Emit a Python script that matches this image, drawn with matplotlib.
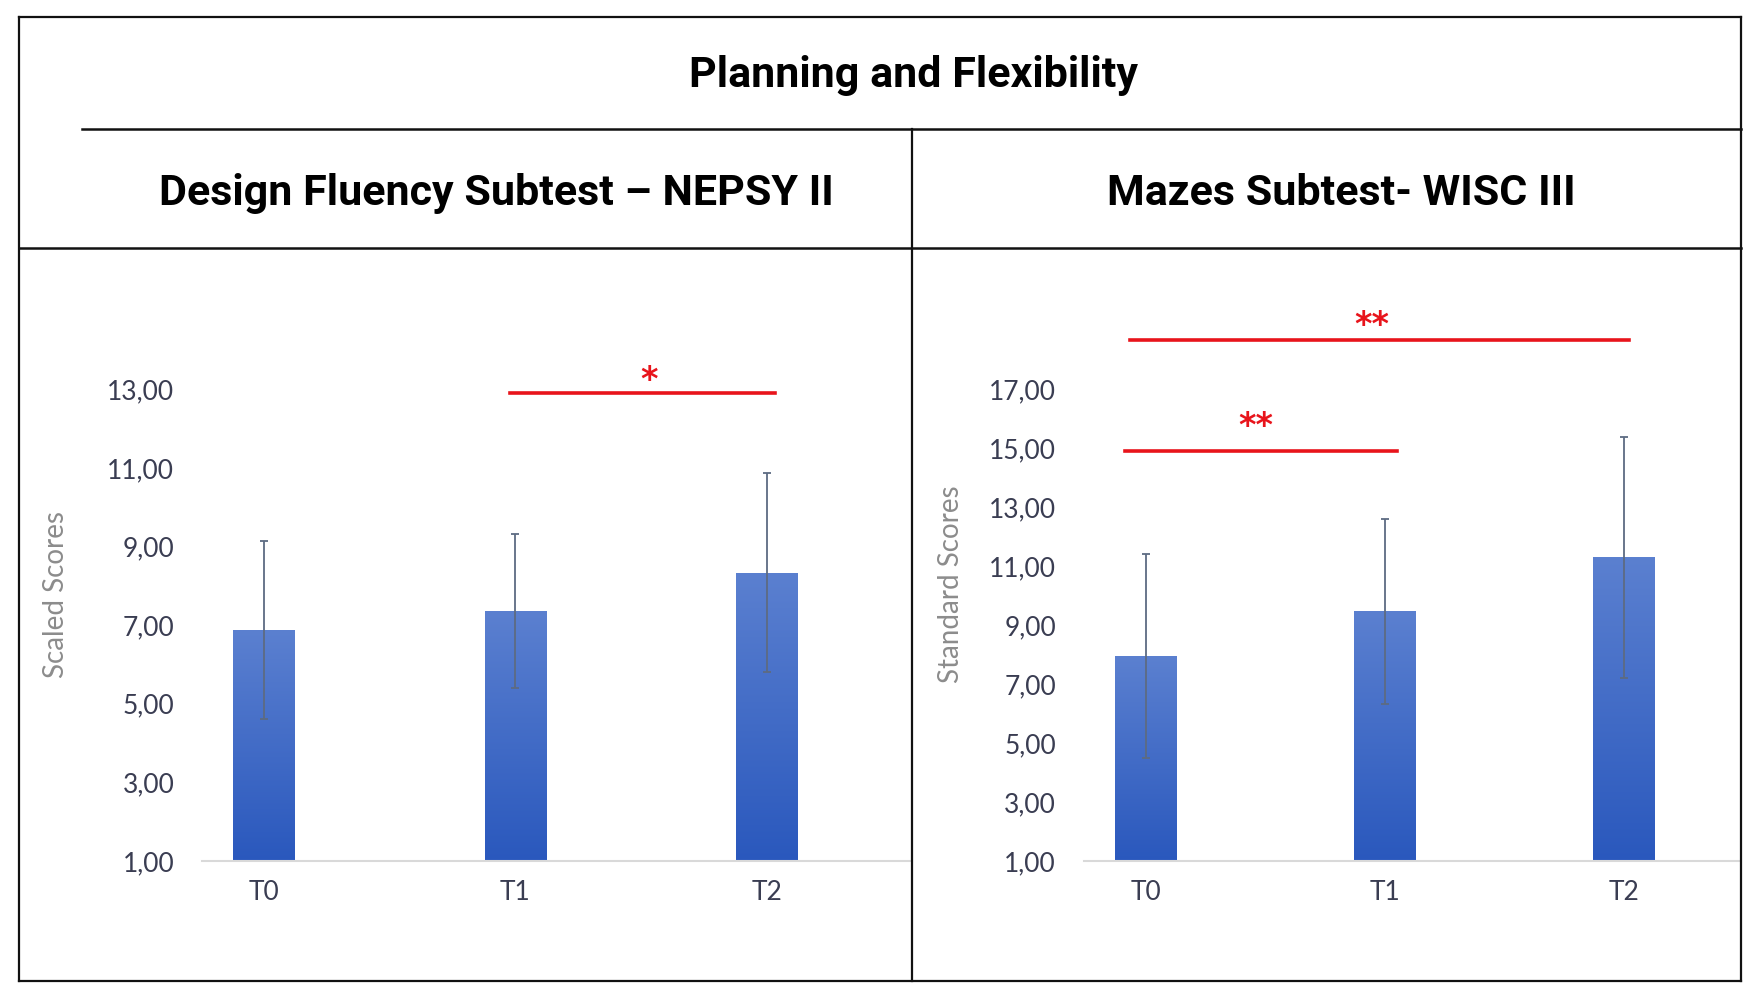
import matplotlib as mpl
mpl.use('Agg')
import matplotlib.pyplot as plt
from matplotlib.lines import Line2D
from matplotlib.colors import LinearSegmentedColormap
import numpy as np

# data
sessions = ['T0', 'T1', 'T2']

fluency_means = [6.87, 7.36, 8.33]
fluency_sd = [2.27, 1.95, 2.53]
fluency_ticks = [1, 3, 5, 7, 9, 11, 13]

mazes_means = [7.95, 9.47, 11.30]
mazes_sd = [3.47, 3.13, 4.09]
mazes_ticks = [1, 3, 5, 7, 9, 11, 13, 15, 17]

# significance brackets: (from, to, height, label, label x, label baseline)
fluency_sig = [(0.98, 2.03, 12.9, '*', 1.53, 12.98)]
mazes_sig = [(-0.085, 1.05, 14.9, '**', 0.46, 15.43),
             (-0.065, 2.02, 18.67, '**', 0.944, 18.86)]

W, H = 1568.0, 885.0   # layout measured on a scaled copy of the reference


def fx(x):
    return x / W


def fy(y):
    return 1 - y / H


fig = plt.figure(figsize=(17.61, 9.96), dpi=100)
fig.patch.set_facecolor('white')

title_font = ['Liberation Sans Narrow', 'Roboto', 'DejaVu Sans']
tick_font = ['Lato', 'DejaVu Sans']


def fline(x0, y0, x1, y1, lw=1.6, color='#111111'):
    fig.add_artist(Line2D([fx(x0), fx(x1)], [fy(y0), fy(y1)],
                          transform=fig.transFigure, color=color, lw=lw))


# frame of the table
fline(17, 15, 1550, 15)
fline(17, 872, 1550, 872)
fline(17, 15, 17, 872)
fline(1550, 15, 1550, 872)
fline(73, 115, 1550, 115, lw=1.8)
fline(17, 220, 1550, 220, lw=1.8)
fline(812, 115, 812, 872)

fig.text(fx(813), fy(67), 'Planning and Flexibility', ha='center', va='center',
         fontsize=31, fontweight='bold', family=title_font)
fig.text(fx(442), fy(172), 'Design Fluency Subtest \u2013 NEPSY II', ha='center', va='center',
         fontsize=31, fontweight='bold', family=title_font)
fig.text(fx(1194), fy(172), 'Mazes Subtest- WISC III', ha='center', va='center',
         fontsize=31, fontweight='bold', family=title_font)

cmap = LinearSegmentedColormap.from_list('bar', ['#2a58bd', '#5b80d0'])
grad = np.linspace(0, 1, 256).reshape(-1, 1)


def draw_panel(ax, means, sds, ticks, sig, width, xlim, ylabel, label_pos):
    x = np.arange(len(sessions))
    bars = ax.bar(x, means, width=width, bottom=0, color='none', edgecolor='none', zorder=2)
    for b in bars:
        x0, y0 = b.get_x(), ticks[0]
        x1, y1 = x0 + b.get_width(), b.get_height()
        im = ax.imshow(grad, extent=[x0, x1, y0, y1], origin='lower', aspect='auto',
                       cmap=cmap, zorder=2)
        im.set_clip_path(b)
    ax.errorbar(x, means, yerr=sds, fmt='none', ecolor='#5d6b82', elinewidth=1.3,
                capsize=3, capthick=1.3, zorder=3)

    ax.set_xlim(*xlim)
    ax.set_ylim(ticks[0], ticks[-1])
    ax.set_yticks(ticks)
    ax.set_yticklabels(['%d,00' % t for t in ticks])
    ax.set_xticks(x)
    ax.set_xticklabels(sessions)
    ax.tick_params(axis='y', length=0, labelsize=19, labelcolor='#3a3d52', pad=20)
    ax.tick_params(axis='x', length=0, labelsize=19, labelcolor='#3a3d52', pad=14)
    for lab in ax.get_xticklabels() + ax.get_yticklabels():
        lab.set_family(tick_font)
    for s in ['top', 'right', 'left']:
        ax.spines[s].set_visible(False)
    ax.spines['bottom'].set_color('#d9d9d9')
    ax.spines['bottom'].set_linewidth(1.5)
    ax.set_ylabel(ylabel, fontsize=20, color='#8c8c8c', family=tick_font, va='center')
    ax.yaxis.set_label_coords(*label_pos)
    ax.patch.set_alpha(0)

    for a, b, yv, label, lx, ly in sig:
        ax.plot([a, b], [yv, yv], color='#e8141b', lw=2.6, clip_on=False, zorder=4)
        ax.text(lx, ly, label, ha='center', va='baseline', color='#e8141b',
                fontsize=24, fontweight='bold', clip_on=False)


# left panel
ax1 = fig.add_axes([fx(180), fy(765), fx(812) - fx(180), fy(346) - fy(765)])
draw_panel(ax1, fluency_means, fluency_sd, fluency_ticks, fluency_sig,
           0.2455, (-0.2455, 2.576), 'Scaled Scores', (-0.206, 0.566))

# right panel
ax2 = fig.add_axes([fx(965), fy(765), fx(1550) - fx(965), fy(346) - fy(765)])
draw_panel(ax2, mazes_means, mazes_sd, mazes_ticks, mazes_sig,
           0.258, (-0.258, 2.488), 'Standard Scores', (-0.202, 0.587))

fig.savefig('out.png', dpi=100, facecolor='white')
